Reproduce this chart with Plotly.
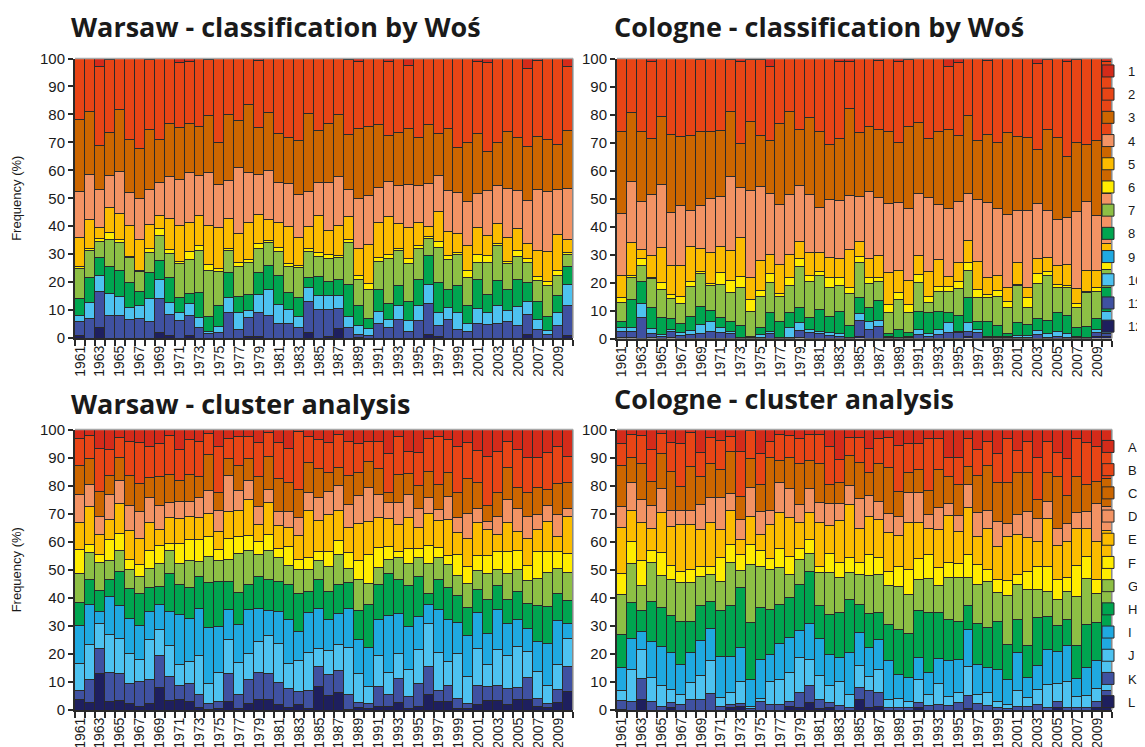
import plotly.graph_objects as go

years = list(range(1961, 2011))
year_ticks = list(range(1961, 2010, 2))
y_ticks = list(range(0, 101, 10))

wos_names = ["1", "2", "3", "4", "5", "6", "7", "8", "9", "10", "11", "12"]
cluster_names = ["A", "B", "C", "D", "E", "F", "G", "H", "I", "J", "K", "L"]
class_colors = ["#d42b1a", "#e84516", "#cc6600", "#f39364", "#fbbc00", "#ffec00",
                "#8dbf45", "#00a550", "#1fa9e1", "#4dc2f0", "#3f51a1", "#1e1f5e"]

# ---------------- Warsaw - classification by Wos ----------------
w_wos_1 = [0,0,3,0.5,0,0,0,0.4,0,0, 1.6,1,0,0.2,0,0,0,0,0.7,0, 0,0,0,0,0,0,0,0.4,1,0, 0,1,0,2.4,0,0,0,0,0,0, 1.2,1.6,0,0,0,3.6,0.7,0,0,2.8]
w_wos_2 = [21.7,19,28,25.9,18.1,29.1,32.1,25.1,28.8,23.1, 23.1,22.3,24.3,20.2,30,19.9,22.1,16.5,24,19.2, 26.7,28.2,29.3,19.7,25.9,23.1,19.9,26.9,24.2,24.2, 23.7,26.6,26.4,22.8,28.3,23.7,27,24.9,31.8,30.2, 25.8,31.7,30.2,26.1,28.3,27.9,27.2,29.1,30.9,23.1]
w_wos_3 = [25.8,22.4,16,15.3,22.2,19,18,21.5,15.6,19, 18.6,17.6,17.7,20.4,15,23.9,17,24.4,16.8,20.7, 17.7,16.5,19.3,28,18.5,21.3,22.2,19.6,24.9,24.7, 22.3,16.5,18.9,19.9,17,21,15,22.2,16.3,20.8, 21.3,13.8,15.4,20.4,18.8,19.2,18.9,18.4,15.9,20.6]
w_wos_4 = [16.5,16.2,13.3,11.5,15.1,11.6,14.8,12.4,11.7,15.2, 16.4,17.7,14.1,18.9,15.6,13.5,23.6,17.7,14.3,17.7, 14.2,15.3,15.5,12.4,11.7,17.1,17.6,9.8,18,17.8, 12.8,12.4,13.6,15.5,13.2,15.3,12.9,14.7,14.4,15.9, 12.3,16.2,13.5,17.4,13.8,15.4,21.9,21.6,16.3,18.4]
w_wos_5 = [10.5,10.3,4,9.2,9.3,11,11,8.7,4.6,11.2, 12.8,10.6,10.8,14,14.7,10.6,10.2,13.3,10.5,7.5, 8.9,13.5,9.8,7.8,13.4,8.8,10.8,8.2,9.4,13.8, 12.3,13.6,9,10.9,8.4,3.7,10.4,8.7,7,9.1, 9.7,7.2,7,8.6,7.8,5.4,9.2,10.6,12.8,4.4]
w_wos_6 = [0.5,0.8,1.2,2.3,1.2,0.6,0.4,1.4,2.6,1.2, 1,2.7,1.7,2.2,1,0.8,1.6,1,1.6,0.6, 1.4,0.8,0.8,1,1.2,1.2,0.6,1,1.4,2, 1.6,1.6,0.8,2,1.2,0.8,2.4,1.4,0.8,2.3, 2.6,2.4,0.8,1,2,1.4,1.6,1.6,1.8,0.8]
w_wos_7 = [11,9.7,5.6,9.6,10.1,9,7.2,7.2,8.8,8.7, 12,12.2,15.1,16.5,12.2,7.8,10.8,11.4,8.8,8.4, 8.8,9.4,10.8,9.4,7.2,8.4,8,14.8,9.6,10.5, 10,15.8,12.6,13.4,10.8,6,12.4,10.6,10.8,10.2, 6,11.4,12.6,9,8.4,7.2,7.4,11.1,7,4.2]
w_wos_8 = [6,8.9,6.6,9.6,9.1,8.8,4.7,9.2,7,8.9, 5.4,3.7,9,5.1,7.4,9,5.6,6,7.6,8.6, 10.2,6.2,6.9,3.6,7,5,5.6,11.6,6.9,3.6, 7.7,6,7.2,7,9.3,10.2,10.8,6.6,9.8,6.2, 10.5,6.6,9,7.8,9.7,6.8,6.4,4.8,6.2,6.4]
w_wos_9 = [0]*50
w_wos_10 = [2,5.7,5.8,7.9,7,4.2,4.8,8.3,6.8,4.3, 3,4.3,3.6,0.9,2.2,5.4,6,2.4,6.6,9.1, 6.8,4.8,3.9,4.9,4.8,5,4.7,4,3.3,2.4, 4.3,2.9,5,3.6,5.7,6.8,4.5,4.4,6.2,3.1, 5.3,4.2,6.2,3.9,6.6,4.6,3.8,1.5,4.8,7.8]
w_wos_11 = [5,7,12.8,8.2,7.9,6.7,7,5.8,12.2,7.4, 6.1,6.9,3.7,1.6,1.9,9.1,3.1,6.8,8.4,8.2, 5.3,5.3,3.7,11.3,10.3,9.6,7.2,3.7,1,1, 5.3,3.6,6.5,2.5,6.1,11.3,3.9,6.5,2.9,2.2, 5.3,4.9,5.3,5.8,4.6,7.2,2.9,1.3,4.3,10.5]
w_wos_12 = [1,0,3.7,0,0,0,0,0,1.9,1, 0,1,0,0,0,0,0,0.5,0.7,0, 0,0,0,1.9,0,0.5,3.4,0,0.3,0, 0,0,0,0,0,1.2,0.7,0,0,0, 0,0,0,0,0,1.3,0,0,0,1]

# ---------------- Cologne - classification by Wos ----------------
c_wos_1 = [0,0,0,1,0,0,0,0,0.4,0, 0,0.4,1.2,0.4,0.4,2.7,0,0,0,0, 0,0,1,1,0,0,0.6,0,1,0.4, 0,0,0,2.7,1.3,0,0,0.7,0,0, 0,0,1.8,0.4,0,1.2,0.4,0,0,1]
c_wos_2 = [26,19.4,26,27.6,20.6,27.1,27.7,27.4,25.6,26, 25.7,18.6,29.3,22.2,27,26.6,23.3,19,25.4,21, 26,30.7,27.6,17,26.3,24.2,24.8,26.2,29.1,24, 23,28.6,26.2,22.7,26.1,20.4,29.2,26.4,29.9,26.5, 27.7,28.3,30.7,25,28.1,33.9,29.7,30.7,29.3,27.3]
c_wos_3 = [29.2,24.4,25,20,24.4,28,24.8,26.9,26.4,24, 23.5,23,15.5,24.5,18.2,18.9,28.8,29.6,20.1,27.6, 27.3,19.7,22.1,30.8,23.1,23.4,24.4,25.7,21.4,29.3, 25.2,20.9,25.9,28.3,23.8,27.9,21.2,24.4,23.8,29.2, 26.6,26,19.4,28.9,29.4,21.8,24.4,20.5,26.7,20]
c_wos_4 = [22.3,22,17.2,21.6,22.4,18.7,21.3,13,15.5,19.4, 17.9,26.6,18,31,26.4,21.8,21.5,21.4,19.7,20.8, 16.1,20.6,20.7,19.4,15.8,23.9,20.4,24.4,24.2,25.6, 22.2,26.7,19.7,24,21.5,16.7,22,26.6,23.7,26, 18.4,27.6,19.5,16.7,16.3,16.7,27.6,24.5,19.7,17.9]
c_wos_5 = [7.7,11.6,3.2,7.9,12.7,10.5,11.1,12.2,8.3,11.1, 9.4,10.7,13.7,8,10.9,6.8,10.3,8.3,6.2,8.1, 6.6,7.1,6.7,13.5,5.4,6.8,7.9,11.6,7.8,8.6, 6.7,8.7,9.5,3.8,6.8,8,10.1,6.2,5.3,5.2, 8,3.6,5.4,5.2,6.9,7.4,5.5,7.4,6,6.4]
c_wos_6 = [1.8,0.7,2.4,0.6,2.4,1.4,2.7,1.8,0.7,0.6, 4.2,4.2,4,4.1,2,3.1,1,2.7,2.8,2, 1.4,3.8,2.9,2.3,2.4,2.2,1.4,2.9,2.6,2.9, 3,2.4,1.8,1.6,2.8,2.6,3,0.9,2.2,2.1, 0.3,3.5,3.6,1.2,1,0.7,1.4,0.6,1.6,2.8]
c_wos_7 = [7,8,5.7,10.3,9.9,7.2,7.2,10.7,11.6,8.9, 11.9,10.5,13.5,9,11.1,10.9,8.9,9.8,14.8,12.9, 12.2,10.1,9.2,11.2,12.2,8.5,6.9,7.5,10.7,7.2, 10.1,3.5,7.1,7.7,9.5,9.6,8.5,8.6,10.3,9.3, 13.4,6,12.5,16.2,9.1,10,7,11.9,9.6,6.3]
c_wos_8 = [2,9.9,8.1,7.4,6.2,3.9,3.2,5.1,6.5,4, 3.6,3.4,4.3,0.5,2.6,6.6,5.7,5.4,5.4,4.4, 7.8,6,8.1,4.3,6,5,7.2,1,2.7,1.2, 6.6,7.5,6.6,3.6,5.6,9.2,2.8,5.4,4,0.9, 4.4,3.8,4.2,4.7,6.8,6.6,3.3,3.9,3.9,8.8]
c_wos_9 = [0]*50
c_wos_10 = [1.5,1.5,4.9,1.9,0.7,0.8,0.8,1.5,3.3,3.6, 1.8,0.9,0.2,0.1,0.9,0.8,0.3,3.3,2.7,1.2, 0.9,1,0.9,0.3,2.4,2.8,2,0.4,0.3,0.5, 1.8,1,1.8,3.6,0.6,3,1.2,0.5,0.5,0.5, 0.7,0.7,1.5,1.2,1.6,1.2,0.4,0.3,1.2,7.8]
c_wos_11 = [2,2,7.5,1.2,0.7,1.9,1.2,1.4,1.7,2.4, 2,1.7,0.3,0.2,0.5,1.8,0.2,0.5,2.4,2, 1.7,1,0.8,0.2,5.6,3.2,4.4,0.3,0.2,0.3, 1.4,0.7,1.4,2,2,1.9,2,0.3,0.3,0.3, 0.5,0.5,1.4,0.5,0.8,0.5,0.3,0.2,1.3,1]
c_wos_12 = [0.5,0.5,0,0.5,0,0.5,0,0,0,0, 0,0,0,0,0,0,0,0,0.5,0, 0,0,0,0,0.8,0,0,0,0,0, 0,0,0,0,0,0.7,0,0,0,0, 0,0,0,0,0,0,0,0,0.7,0.7]

# ---------------- Warsaw - cluster analysis ----------------
w_cl_A = [3.3,2.1,6.9,7.1,3,4.4,4.5,6,5,2, 7.1,3.6,4.2,1.4,6.2,3.3,2.6,2.6,4.8,1.2, 4.5,6.9,0.6,2.6,3.6,4.5,1.8,4.2,5,4.2, 4.2,8.6,2.4,7.7,8.1,3.3,2.6,3.6,6,4.8, 7.4,9.8,7.7,4.2,7.1,10.1,10.1,8.1,6,9.8]
w_cl_B = [9.6,8.4,15.1,9.4,6.9,12.1,14.8,11,11.7,14.1, 11,12.5,12.5,7.5,16.4,7.2,10.3,7.9,11.9,8.6, 13.1,11.9,20.8,9.1,10.4,11,11.9,12.2,10.2,7.1, 9.8,14,13.7,8,11.9,11.6,17,11.9,16.6,12.5, 11.4,17.3,14.9,9.5,13.4,12.3,10.7,13.3,13.3,9]
w_cl_C = [10.3,9.1,9,6.8,8.2,10.6,9.9,7.4,10.4,10.1, 7.5,9.5,7.7,13,6.2,5.9,8.8,7.6,10.7,11.6, 11.6,10.4,9.8,10.9,10.4,6.5,6.3,10.4,8.4,9.2, 9.2,3.4,10.1,7.5,8.3,9.5,9,8.5,8.9,12.5, 9.5,5.6,8.4,11.3,7.5,8.6,9.6,5.7,11.1,9.2]
w_cl_D = [9.8,7.8,6.5,8.8,8.3,8.9,9.5,8.7,8.6,5, 6.2,5.4,6.8,8.1,7.5,12.8,7.1,6.9,6.5,4.8, 5.1,5.9,6.7,6.2,8,8.4,8.8,8,10,12.2, 8,5.9,7.7,8.3,6.8,5.6,3.8,8.1,5.2,8.9, 5,3,6.5,8.1,8.3,7.7,5.1,5.6,7.7,3]
w_cl_E = [9.9,13.7,7.1,7.2,10.5,10.2,9.5,10.1,5.7,9.3, 8.9,8.3,8.1,8.1,6.6,9.5,9.3,12.9,6,11.1, 8,6.6,8.5,17,11.1,13.1,10.7,9,13.1,11.9, 10.7,9.8,9.6,11.1,7.5,11.4,9.5,12.9,7.9,10.1, 11.7,9.3,6,10.4,6.9,9.9,8,10.8,5.4,13.3]
w_cl_F = [8.6,2.7,2.8,7.4,6.2,3.8,4.2,6.2,6.2,2.6, 7.2,7.4,7.7,7.1,3.8,7.5,6.2,5.3,4.7,5.9, 3.3,6.9,3.6,4.2,3.2,5.3,5.1,5.6,6.9,10.2, 7.3,4.5,2.3,5,3,6.2,3.6,3.2,7.5,6.2, 5.2,6.4,6.3,7.9,6.8,5.2,9.5,7.5,5.9,6.7]
w_cl_G = [10.2,9.8,10.1,6.9,7.6,6.8,6.2,7.1,8.4,8.1, 7.5,9.8,5.4,9.2,7.5,8,13.8,12.2,7.8,10.1, 8.6,6.8,8.6,7.7,6.9,8.9,10.8,5.1,10.9,7.7, 6.2,5,7.8,8.1,6.8,10.7,7.8,8.3,7.2,8.3, 6.9,9.1,5.9,9.3,7.7,8.1,9.9,12.1,9.2,10]
w_cl_H = [8.2,8.7,7.4,5.9,12.2,10.5,11.4,8.4,6.5,13.8, 10.7,10.8,11.4,16.1,16,9.9,11.5,8.9,11.3,11.3, 10.7,12.5,13.4,7.5,10.1,10.2,10.3,9.4,10.5,15.1, 12.5,15.2,12.1,14.5,14.3,4.2,11,11.4,9.5,10.3, 8.1,12.4,8.6,8.3,10.2,8.9,12.7,13.1,9.5,8]
w_cl_I = [13.4,14.5,4.4,13.7,11.5,12.5,11.9,10.1,8.9,12.1, 17.8,15.4,16.9,20,16.5,10.9,13.5,15.7,11.9,9, 11.5,15.4,10.4,14.3,14.3,11,11.1,13.8,11.9,14.1, 12.5,20.3,14.1,15.5,11.9,6.5,15.2,14.8,11.2,14.3, 12.8,10.7,14,11.7,9.5,8.4,10.7,15.2,15.5,5.4]
w_cl_J = [9.6,12.2,8.7,13.5,12.5,10.7,8,14,9.3,11, 7.2,7.8,13.9,7.1,10.1,12.1,11.5,9,11.1,13.3, 13.8,9,11.1,13.4,6.5,8.6,9.2,16.9,10.5,5.9, 11.3,7.9,8.9,9.5,11.9,15.5,13.4,8.4,15.8,9.7, 13.4,8.1,12.8,11.6,14.5,9.1,9.5,6.2,9,10.1]
w_cl_K = [3.3,8.4,9.1,10.3,9.8,7.1,8.9,8.6,11.2,8.6, 5.1,6.5,4.4,2.2,2.6,9.9,4.8,8.6,9.5,9.3, 8,6.7,4.7,6.5,7.2,7.5,7.8,5.2,1.6,1.8, 6.9,4.2,8.7,4.2,8.1,9.8,4.1,5.9,3.6,1.8, 6.8,5,5.6,5.9,4.5,8.1,3,1.4,4.8,9]
w_cl_L = [3.8,2.6,12.9,3,3.3,2.4,1.2,2.4,8.1,3.3, 3.8,3,1,0.2,0.6,3,0.6,2.4,3.8,3.8, 1.8,1,1.8,0.6,8.3,5,6.2,0.2,1,0.6, 1.4,1.2,2.6,0.6,1.4,5.7,3,3,0.6,0.6, 1.8,3.3,3.3,1.8,3.6,3.6,1.2,1,2.6,6.5]

# ---------------- Cologne - cluster analysis ----------------
c_cl_A = [5,1.8,2.1,7.1,1.4,4.5,5,1.2,8.1,3, 3.9,2.4,7.7,0.2,8.6,4.2,1.8,2.1,3.3,1.8, 1.8,6.2,10.7,3,3,6.9,3.3,3,5.7,5, 5,3.3,3.3,10.1,10.1,3.3,7.1,4.2,8.6,3.3, 7.4,4.2,10.1,4.2,8.3,10.5,3.3,4.5,6.2,6.2]
c_cl_B = [7.8,8.3,10,11.3,7.2,10.3,15.4,11.9,8.8,9.2, 10.4,5.3,16.1,10.3,11,5.9,9.1,8,8.8,9.1, 10.3,13.4,8.1,6.1,8.6,8.3,8.8,10.7,16.3,10.2, 9.3,18.3,11,6.8,9.5,10,9.3,8.6,10.2,15.5, 7.8,11.2,14.8,11,8.6,13,13.6,15.1,12.2,11.4]
c_cl_C = [14.5,8.9,12.8,8.7,12.5,13.9,8.3,15.6,9.8,12.1, 10,15.1,8.3,10.3,9.5,18.6,8.1,11,14.6,10.2, 13.8,6.9,7.7,10.9,13.1,8.3,13.4,16.2,9.1,7.1, 8,8.7,13.6,9.5,11,6.3,13.1,15.9,13.9,14.7, 15.1,13.7,6.9,10.3,18.5,10,12.6,9.5,8,9.7]
c_cl_D = [7.7,9.7,8.4,8.3,8.4,6,5.1,5.1,8.9,8.7, 11.3,5.9,7.1,10.1,8.3,5.1,10.7,10.1,6.6,8.6, 7.4,7.9,6,6.7,10.7,7.4,6.6,6.7,6.7,11, 10.7,5.1,7.7,4.2,5.6,8.3,8.5,6.7,8.9,4.7, 7.1,9.5,8,6.3,5.9,6.3,5.9,6.3,13.4,8.6]
c_cl_E = [16.3,11.1,13.3,7.6,14.4,13.8,16.7,16.1,13.3,15.7, 10,12.3,5.3,10.1,5.9,12.3,12.8,13.9,9.2,9.5, 15.7,9.8,14.8,19,11.9,13.6,13.6,14.2,11.1,16.6, 13.1,9.1,13.7,16.9,11.5,16.6,10.1,14.5,11.8,15.8, 14.3,11.9,9.1,17.1,12.1,13.1,13.1,9.7,13.6,9.2]
c_cl_F = [7.5,7.9,9,4.5,8.1,4.9,4.1,4.5,3.6,3, 8.5,6.5,5.7,7.1,5.4,3.8,6.8,6.6,3.8,5.1, 2.1,6.9,5.4,5.4,4.4,7.5,6,4.8,7.1,8.9, 7.3,8.7,6.3,5.4,5.2,8.1,7.1,4.2,4.6,5.1, 3.5,6.5,8.1,8.7,7.2,4.7,11.1,8.1,5,8.9]
c_cl_G = [14.2,14.1,8.9,13.7,11.5,12.9,13.7,13.9,10.4,9.5, 10.6,15.2,6.2,20.8,14.8,14.2,13.1,8.3,8.9,6.5, 11.6,14.8,12.5,9.5,10.7,13.6,13.4,13.9,15.3,13.9, 11.3,12.1,9.5,15,15.4,10.1,13.9,16.6,10.6,17.5, 12.5,20,10.1,8.9,9.2,10.3,17.4,16.3,10.5,9.5]
c_cl_H = [11.9,12.8,7.4,14.2,13.9,13.3,15.4,11.3,12.2,9.8, 16.1,18.1,21.2,20.2,18.4,16.1,13.8,14.2,16.3,18.4, 11.9,14.3,16,19,9.8,12.2,9.7,12.7,16,15.8, 16.7,21.2,16.6,14.3,13.6,8.6,14.6,14.2,16.9,12.5, 11.9,11.5,17.2,11.9,9.5,9.1,11.8,15.4,13.6,9.5]
c_cl_I = [8.1,10.9,6.5,13.1,14,13,10.7,10.7,12.5,11.5, 14.8,13,12.4,9.5,14.1,9.5,13.1,12.3,9.9,12.7, 13,11.2,8.7,14.8,12.1,10.3,10.7,14.2,8.7,8.3, 7.7,7.9,8.8,13,11.7,13.3,10.7,8.9,11.3,8.9, 13.6,7.1,8.3,12.5,11.2,13,6.4,10.1,9.9,8.4]
c_cl_J = [3.6,11.6,10.4,8.6,7.4,4.8,3.6,6.1,8.6,11.6, 3,4.2,7.6,0.9,0.8,8.3,8.7,10.3,12.2,9.3, 8.8,6,8.4,4.8,7.5,4.8,8.1,2.8,3.2,2.4, 8.3,3.9,7.5,3.1,3.8,10.4,3.2,4.5,2.4,1.5, 5.4,3,5.4,8.3,6.3,9.2,4,4.2,4.4,11.8]
c_cl_K = [3.2,2.9,7.4,2.9,1.2,1.8,2,3.6,3.8,5.9, 1.4,1.2,1.2,0.5,3.2,2,2,1.8,5.6,6.2, 3.1,1.8,1.7,0.8,4.4,6.3,5,0.8,0.8,0.8, 1.8,1.7,2,1.7,2.6,4.5,2.4,1.7,0.8,0.5, 1.4,1.4,2,0.8,2.4,0.8,0.8,0.8,2.4,6]
c_cl_L = [0.2,0,3.8,0,0,0.8,0,0,0,0, 0,0.8,1.2,0,0,0,0,1.4,0.8,2.6, 0.5,0.8,0,0,3.8,0.8,1.4,0,0,0, 0.8,0,0,0,0,0.5,0,0,0,0, 0,0,0,0,0.8,0,0,0,0.8,0.8]

panels = [
    ("x", "y", [w_wos_1, w_wos_2, w_wos_3, w_wos_4, w_wos_5, w_wos_6, w_wos_7, w_wos_8, w_wos_9, w_wos_10, w_wos_11, w_wos_12], wos_names, None),
    ("x2", "y2", [c_wos_1, c_wos_2, c_wos_3, c_wos_4, c_wos_5, c_wos_6, c_wos_7, c_wos_8, c_wos_9, c_wos_10, c_wos_11, c_wos_12], wos_names, "legend"),
    ("x3", "y3", [w_cl_A, w_cl_B, w_cl_C, w_cl_D, w_cl_E, w_cl_F, w_cl_G, w_cl_H, w_cl_I, w_cl_J, w_cl_K, w_cl_L], cluster_names, None),
    ("x4", "y4", [c_cl_A, c_cl_B, c_cl_C, c_cl_D, c_cl_E, c_cl_F, c_cl_G, c_cl_H, c_cl_I, c_cl_J, c_cl_K, c_cl_L], cluster_names, "legend2"),
]

fig = go.Figure()
for xa, ya, series, names, leg in panels:
    # add from the bottom category (12 / L) up to the top one (1 / A)
    for k in range(11, -1, -1):
        kw = dict(
            x=years, y=series[k], xaxis=xa, yaxis=ya, name=names[k],
            marker=dict(color=class_colors[k], line=dict(color="#2a2a2a", width=1)),
            showlegend=leg is not None,
            hovertemplate="%{x}: %{y}%<extra>" + names[k] + "</extra>",
        )
        if leg is not None:
            kw["legend"] = leg
            kw["legendgroup"] = xa + "_" + names[k]
            kw["legendrank"] = k + 1
        fig.add_trace(go.Bar(**kw))

W, H = 1145, 747
def px_x(v):
    return v / W
def px_y(v):
    return 1 - v / H

dom = {
    "1": ([px_x(67), px_x(565)], [px_y(330), px_y(50.5)]),
    "2": ([px_x(609), px_x(1104)], [px_y(330.5), px_y(50.5)]),
    "3": ([px_x(67), px_x(565)], [px_y(702), px_y(421.5)]),
    "4": ([px_x(609), px_x(1104)], [px_y(702), px_y(421.5)]),
}

tick_font = dict(family="Liberation Sans, Arial, sans-serif", size=14, color="#1a1a1a")
layout = dict(
    width=W, height=H, barmode="stack", bargap=0,
    margin=dict(l=0, r=0, t=0, b=0),
    paper_bgcolor="white", plot_bgcolor="white",
    font=dict(family="Liberation Sans, Arial, sans-serif", color="#1a1a1a"),
)
shapes = []
for i in ["1", "2", "3", "4"]:
    sfx = "" if i == "1" else i
    xd, yd = dom[i]
    layout["xaxis" + sfx] = dict(
        domain=xd, anchor="y" + sfx, range=[1960.5, 2010.5],
        tickmode="array", tickvals=year_ticks, ticktext=[str(v) for v in year_ticks],
        tickangle=-90, ticks="", tickfont=tick_font,
        showline=True, linecolor="#2a2a2a", linewidth=2,
        showgrid=False, zeroline=False, automargin=False, fixedrange=True,
        minor=dict(tickmode="linear", tick0=1960.5, dtick=1, ticks="outside",
                   ticklen=6, tickwidth=1.5, tickcolor="#2a2a2a", showgrid=False),
    )
    yax = dict(
        domain=yd, anchor="x" + sfx, range=[0, 100],
        tickmode="array", tickvals=y_ticks, ticks="outside", ticklen=5, tickwidth=1.5,
        tickcolor="#2a2a2a", tickfont=dict(family="Liberation Sans, Arial, sans-serif", size=15, color="#1a1a1a"),
        showline=True, linecolor="#2a2a2a", linewidth=2,
        showgrid=False, zeroline=False, automargin=False, fixedrange=True,
    )
    if i in ("1", "3"):
        yax["title"] = dict(text="Frequency (%)", font=dict(size=13, color="#1a1a1a"), standoff=15)
    layout["yaxis" + sfx] = yax
    xr, yr = "x" + sfx + " domain", "y" + sfx + " domain"
    shapes.append(dict(type="line", xref=xr, yref=yr, x0=0, x1=1, y0=1, y1=1,
                       line=dict(color="#a8a8a8", width=1.5), layer="above"))
    shapes.append(dict(type="line", xref=xr, yref=yr, x0=1, x1=1, y0=0, y1=1,
                       line=dict(color="#a8a8a8", width=1.5), layer="above"))
layout["shapes"] = shapes

legend_common = dict(
    xanchor="left", yanchor="top", bgcolor="rgba(0,0,0,0)",
    font=dict(family="Liberation Sans, Arial, sans-serif", size=13, color="#1a1a1a"),
    traceorder="grouped", tracegroupgap=3.3, itemwidth=30,
    itemclick=False, itemdoubleclick=False,
)
layout["legend"] = dict(legend_common, x=px_x(1080), y=px_y(48))
layout["legend2"] = dict(legend_common, x=px_x(1080), y=px_y(423.5))

title_font = dict(family="Open Sans, sans-serif", size=27, color="#1a1a1a", weight="bold")
titles = [
    ("Warsaw - classification by Woś", 61, 19),
    ("Cologne - classification by Woś", 604, 19),
    ("Warsaw - cluster analysis", 61, 395),
    ("Cologne - cluster analysis", 604, 391),
]
layout["annotations"] = [
    dict(text=t, x=px_x(x0), y=px_y(yc), xref="paper", yref="paper",
         xanchor="left", yanchor="middle", showarrow=False, font=title_font)
    for t, x0, yc in titles
]

fig.update_layout(**layout)
fig.write_html("out.html")
